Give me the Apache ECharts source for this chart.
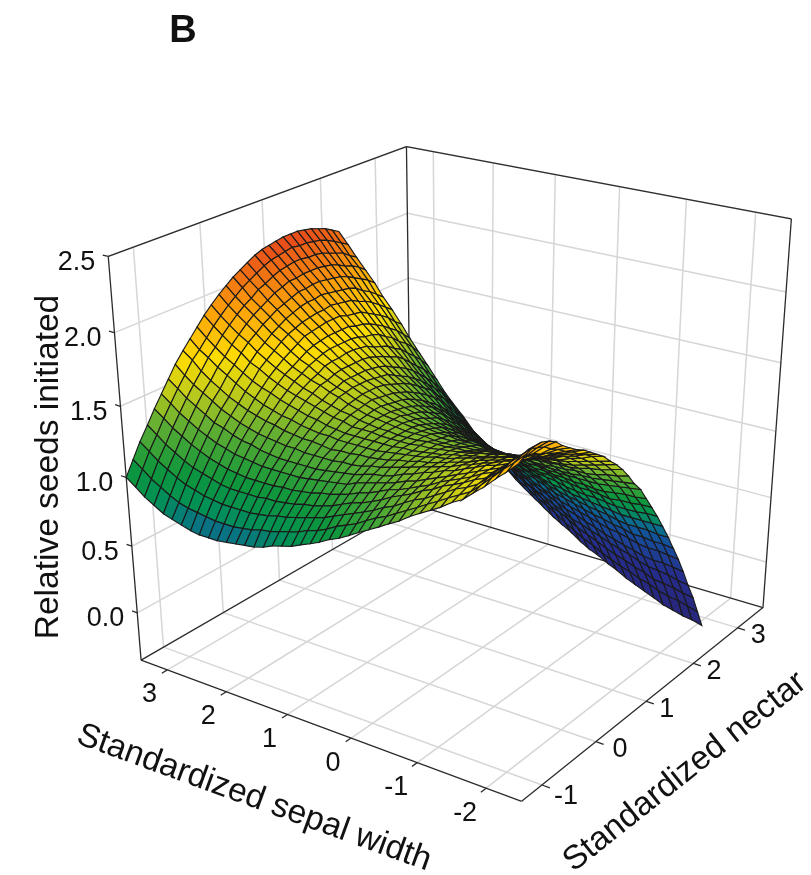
<!DOCTYPE html>
<html><head><meta charset="utf-8">
<style>html,body{margin:0;padding:0;background:#fff}#c{width:811px;height:875px}</style>
<script src="https://cdn.jsdelivr.net/npm/echarts@6/dist/echarts.min.js"></script>
</head><body><div id="c"></div>
<script>
const panelLabel = 'B';
const xTitle = 'Standardized sepal width';
const yTitle = 'Standardized nectar';
const zTitle = 'Relative seeds initiated';
const sepalTicks = [3, 2, 1, 0, -1, -2];
const nectarTicks = [-1, 0, 1, 2, 3];
const seedTicks = [0.0, 0.5, 1.0, 1.5, 2.0, 2.5];
const sepalRange = [3.46, -2.5];
const nectarRange = [-1.36, 3.6];
const seedRange = [-0.365, 2.5];
const sepalGrid = [3.46,3.31,3.17,3.02,2.87,2.73,2.58,2.43,2.29,2.14,2.00,1.85,1.70,1.56,1.41,1.26,1.12,0.97,0.82,0.68,0.53,0.39,0.24,0.09,-0.06,-0.20,-0.35,-0.50,-0.64,-0.79,-0.94,-1.08,-1.23,-1.37,-1.52,-1.67,-1.81,-1.96,-2.11,-2.25,-2.40];
const nectarGrid = [-1.36,-1.24,-1.12,-0.99,-0.87,-0.75,-0.63,-0.51,-0.38,-0.26,-0.14,-0.02,0.10,0.23,0.35,0.47,0.59,0.71,0.84,0.96,1.08,1.20,1.32,1.45,1.57,1.69,1.81,1.93,2.06,2.18,2.30];
// Relative seeds initiated x 100: one row per nectar value, one column per sepal value.
const seedRowsCenti = [
[100,95,90,86,82,80,78,76,75,75,75,76,77,78,79,81,84,86,88,91,94,97,101,104,108,112,116,120,124,128,133,137,141,145,150,154,160,166,173,179,186],
[110,105,100,96,92,89,87,86,85,84,84,84,85,86,88,89,91,93,95,98,100,103,107,110,113,117,121,124,128,132,136,140,144,148,152,156,162,169,176,182,189],
[120,115,110,106,102,99,97,95,94,93,93,93,93,94,95,97,98,100,102,104,106,109,112,115,118,121,125,128,132,136,139,143,147,151,154,158,164,170,178,184,191],
[129,124,119,115,111,108,106,104,102,101,101,101,101,102,102,103,104,106,107,109,111,114,117,119,122,125,129,132,135,139,142,146,149,152,156,159,165,171,178,185,191],
[138,133,128,124,120,117,114,112,110,109,108,108,108,108,109,109,110,111,113,114,116,118,121,123,126,129,131,134,137,140,144,147,150,153,157,160,165,171,176,183,189],
[146,141,136,132,128,125,122,120,118,117,116,115,115,115,115,115,116,117,118,119,120,123,125,127,129,131,134,136,139,142,145,148,151,154,157,160,165,170,175,181,186],
[154,149,144,140,136,132,130,127,125,124,122,121,120,120,120,120,120,121,122,123,124,126,128,129,131,134,136,139,141,144,146,149,152,155,157,160,164,169,172,177,181],
[162,156,151,147,143,139,136,133,131,129,128,127,126,126,125,125,125,125,126,126,127,129,130,132,134,136,138,140,142,144,147,149,152,154,157,159,162,166,170,174,177],
[169,164,158,153,149,145,142,139,137,135,134,132,131,130,130,129,128,129,129,130,130,131,132,134,135,137,138,140,142,144,146,149,151,153,155,158,160,163,167,170,173],
[175,169,165,160,156,152,148,145,142,140,138,137,135,134,133,133,132,132,132,132,132,133,134,135,136,137,139,140,142,144,146,148,150,152,154,156,158,161,164,167,170],
[181,175,170,165,161,157,153,150,148,145,143,141,139,138,136,135,134,134,134,134,134,134,135,135,136,137,138,140,141,143,144,146,148,150,151,153,155,158,161,163,166],
[187,181,176,171,167,162,159,155,152,149,147,145,143,141,139,138,136,136,136,135,135,135,135,136,136,137,138,139,140,142,143,145,146,148,149,151,152,155,157,160,162],
[192,186,181,176,172,167,163,159,156,153,150,148,145,143,141,140,138,137,136,136,135,135,135,136,136,136,137,137,138,139,141,142,143,144,146,147,148,151,153,156,158],
[197,191,186,181,176,171,167,163,159,156,153,151,148,146,143,141,139,138,137,136,135,135,135,134,134,134,135,135,136,137,138,139,140,141,142,143,144,146,148,150,152],
[201,195,190,185,180,175,171,166,162,159,155,152,149,147,144,142,140,138,137,136,135,134,134,133,133,133,133,133,133,134,135,135,136,137,137,138,139,141,143,145,147],
[205,199,193,188,183,178,174,169,165,161,158,154,151,148,145,143,140,138,137,135,134,133,132,132,131,131,131,130,130,130,131,131,132,132,133,133,134,136,137,139,141],
[208,202,197,191,186,181,176,172,167,163,159,155,151,148,145,142,139,137,135,134,132,131,130,129,128,127,127,126,126,126,126,126,126,127,127,128,128,129,131,132,134],
[211,205,199,194,188,183,178,173,168,164,159,155,151,148,145,141,138,136,134,132,130,129,127,126,125,124,123,123,122,122,122,121,121,121,121,122,122,123,124,125,126],
[214,208,202,196,190,185,179,174,169,164,160,155,151,147,144,140,137,134,132,129,127,125,124,122,121,120,119,118,117,116,116,115,115,115,115,115,115,116,117,118,119],
[216,210,204,198,192,186,180,175,169,164,160,155,150,146,142,138,135,132,129,127,124,122,120,118,116,115,114,112,111,110,110,109,109,108,108,107,107,108,109,109,110],
[217,211,205,198,192,186,180,175,169,164,159,154,149,145,140,136,132,129,126,123,120,118,116,113,111,110,108,107,105,104,104,103,102,101,101,100,99,100,100,101,101],
[218,212,206,199,193,187,181,175,169,163,158,152,147,142,138,133,129,126,123,119,116,114,111,109,106,104,102,101,99,98,97,95,94,93,93,92,91,91,91,92,92],
[219,213,206,199,193,186,180,173,167,161,155,150,144,139,135,130,125,122,118,115,111,108,106,103,100,98,96,94,92,90,89,87,86,85,84,83,82,82,82,82,82],
[219,212,205,199,192,185,179,172,166,160,153,147,141,136,131,126,121,117,113,109,106,103,100,97,94,92,89,87,84,82,80,79,77,76,75,73,72,72,72,71,71],
[219,212,205,198,191,184,178,171,164,158,151,145,138,132,127,122,116,112,108,104,100,97,93,90,87,84,82,79,76,74,72,70,68,67,65,64,62,62,61,61,60],
[218,211,204,197,190,183,175,168,161,154,147,141,134,128,123,117,111,107,102,98,93,90,86,83,79,76,73,70,67,65,63,61,59,57,56,54,52,51,51,50,49],
[217,210,202,195,188,181,173,165,158,151,144,136,129,123,117,111,105,100,96,91,86,82,79,75,71,68,65,61,58,56,53,51,48,46,44,42,40,39,39,38,37],
[215,208,200,192,185,177,170,162,154,146,139,131,124,118,112,105,99,94,89,84,79,75,71,66,62,59,55,52,48,46,43,41,38,36,34,31,29,28,27,25,24],
[213,205,198,190,182,174,166,158,150,142,134,126,118,112,105,98,92,87,82,76,71,67,62,58,53,49,46,42,38,35,32,29,26,24,21,19,16,15,14,12,11],
[210,202,194,187,179,170,162,153,145,137,129,120,112,105,98,91,84,79,73,68,62,57,53,48,44,40,35,31,27,24,20,17,14,12,9,7,4,2,1,-1,-3],
[207,199,191,183,175,166,158,149,140,131,123,114,105,98,91,83,76,70,65,59,53,48,43,38,33,29,25,20,16,13,9,6,2,-1,-4,-7,-10,-12,-14,-15,-17]
];
const seedAt=(i,j)=>seedRowsCenti[i][j]/100;

// Camera calibration: box corners (unit cube) -> page pixels, solved by least squares.
const calib = [
 [0,0,0,141,659],[1,0,0,522,802],[1,1,0,763,607],[0,1,0,411,505],
 [0,0,1,108,257],[0,1,1,407,146],[1,1,1,791,219]
];
function solveCamera(pts){
  const A=[],b=[];
  pts.forEach(([X,Y,Z,x,y])=>{
    A.push([X,Y,Z,1,0,0,0,0,-x*X,-x*Y,-x*Z]);b.push(x);
    A.push([0,0,0,0,X,Y,Z,1,-y*X,-y*Y,-y*Z]);b.push(y);
  });
  const n=11,M=[];
  for(let i=0;i<n;i++){M.push([]);for(let j=0;j<n;j++){let t=0;A.forEach(r=>t+=r[i]*r[j]);M[i].push(t);}
    let t=0;A.forEach((r,k)=>t+=r[i]*b[k]);M[i].push(t);}
  for(let c=0;c<n;c++){let p=c;for(let r=c+1;r<n;r++)if(Math.abs(M[r][c])>Math.abs(M[p][c]))p=r;
    [M[c],M[p]]=[M[p],M[c]];
    for(let r=0;r<n;r++){if(r===c)continue;const f=M[r][c]/M[c][c];for(let k=c;k<=n;k++)M[r][k]-=f*M[c][k];}}
  return M.map((r,i)=>r[n]/r[i]);
}
const P=solveCamera(calib);
const U=s=>(s-sepalRange[0])/(sepalRange[1]-sepalRange[0]);
const V=n=>(n-nectarRange[0])/(nectarRange[1]-nectarRange[0]);
const W=z=>(z-seedRange[0])/(seedRange[1]-seedRange[0]);
function depth(s,n,z){return P[8]*U(s)+P[9]*V(n)+P[10]*W(z)+1;}
function project(s,n,z){
  const u=U(s),v=V(n),w=W(z),d=P[8]*u+P[9]*v+P[10]*w+1;
  return [(P[0]*u+P[1]*v+P[2]*w+P[3])/d,(P[4]*u+P[5]*v+P[6]*w+P[7])/d];
}
const [sA,sB]=sepalRange,[nA,nB]=nectarRange,[zA,zB]=seedRange;

const lightLines=[];
sepalTicks.forEach(s=>{lightLines.push([s,nA,zA,s,nB,zA]);lightLines.push([s,nB,zA,s,nB,zB]);});
nectarTicks.forEach(n=>{lightLines.push([sA,n,zA,sB,n,zA]);lightLines.push([sA,n,zA,sA,n,zB]);});
seedTicks.forEach(z=>{lightLines.push([sA,nA,z,sA,nB,z]);lightLines.push([sA,nB,z,sB,nB,z]);});
const darkLines=[
 [sA,nA,zA,sB,nA,zA],[sB,nA,zA,sB,nB,zA],[sB,nB,zA,sA,nB,zA],[sA,nB,zA,sA,nA,zA],
 [sA,nA,zA,sA,nA,zB],[sA,nB,zA,sA,nB,zB],[sB,nB,zA,sB,nB,zB],
 [sA,nA,zB,sA,nB,zB],[sA,nB,zB,sB,nB,zB]
];
sepalTicks.forEach(s=>darkLines.push([s,nA,zA,s,nA-0.09,zA]));
nectarTicks.forEach(n=>darkLines.push([sB,n,zA,sB-0.11,n,zA]));
seedTicks.forEach(z=>darkLines.push([sA,nA,z,sA+0.09,nA,z]));

const STOPS=[[-0.3,[40,36,115]],[0.3,[38,45,140]],[0.65,[20,80,155]],[0.78,[10,110,140]],[0.9,[0,145,85]],[1.05,[15,150,60]],
 [1.3,[100,175,50]],[1.48,[195,205,25]],[1.65,[255,220,0]],[1.9,[250,155,10]],[2.18,[230,72,28]]];
function colorOf(z){
  if(z<=STOPS[0][0])return `rgb(${STOPS[0][1]})`;
  for(let i=1;i<STOPS.length;i++)if(z<=STOPS[i][0]){
    const [a,ca]=STOPS[i-1],[b,cb]=STOPS[i],t=(z-a)/(b-a);
    return `rgb(${ca.map((c,k)=>Math.round(c+(cb[k]-c)*t))})`;
  }
  return `rgb(${STOPS[STOPS.length-1][1]})`;
}
const cells=[];
for(let r=0;r<nectarGrid.length-1;r++)for(let c=0;c<sepalGrid.length-1;c++){
  const s=(sepalGrid[c]+sepalGrid[c+1])/2,n=(nectarGrid[r]+nectarGrid[r+1])/2;
  const z=(seedAt(r,c)+seedAt(r,c+1)+seedAt(r+1,c)+seedAt(r+1,c+1))/4;
  cells.push({r,c,z,d:depth(s,n,z)});
}
const sgn=Math.sign(depth(sA,nB,zA)-depth(sB,nA,zA));
cells.sort((a,b)=>sgn*(b.d-a.d));
const surfaceData=cells.map(o=>[o.r,o.c,o.z]);

function lineSeries(data,color,width){
  return {type:'custom',coordinateSystem:'cartesian2d',silent:true,animation:false,data,
    encode:{x:0,y:1},
    renderItem(params,api){
      const d=data[params.dataIndex];
      const a=api.coord(project(d[0],d[1],d[2])),b=api.coord(project(d[3],d[4],d[5]));
      return {type:'line',shape:{x1:a[0],y1:a[1],x2:b[0],y2:b[1]},style:{stroke:color,lineWidth:width,fill:null}};
    }};
}
const FONT='"Liberation Sans", Arial, sans-serif';
const textItems=[];
seedTicks.forEach(z=>textItems.push({pos:project(sA,nA,z),dx:-13,dy:6,text:z.toFixed(1),align:'right',size:27}));
sepalTicks.forEach(s=>textItems.push({pos:project(s,nA,zA),dx:s<0?-21:-18,dy:25,text:String(s),align:'center',size:27}));
nectarTicks.forEach(n=>textItems.push({pos:project(sB,n,zA),dx:n<0?24:(n===0?24:20.5),dy:n<0?12:8,text:String(n),align:'center',size:27}));
textItems.push({pos:[183,32],dx:0,dy:0,text:panelLabel,align:'center',size:38,bold:true});
textItems.push({pos:[254,798],dx:0,dy:0,text:xTitle,align:'center',size:33.5,rot:-20});
textItems.push({pos:[685,772],dx:0,dy:0,text:yTitle,align:'center',size:33.5,rot:38.5});
textItems.push({pos:[49,467],dx:0,dy:0,text:zTitle,align:'center',size:33.5,rot:90});

const option={
  animation:false,backgroundColor:'#fff',
  grid:{left:0,right:0,top:0,bottom:0},
  xAxis:{type:'value',min:0,max:811,show:false},
  yAxis:{type:'value',min:0,max:875,inverse:true,show:false},
  series:[
    lineSeries(lightLines,'#d6d6d6',1.5),
    lineSeries(darkLines,'#2b2b2b',1.3),
    {type:'custom',coordinateSystem:'cartesian2d',silent:true,animation:false,data:surfaceData,encode:{x:0,y:1},
     renderItem(params,api){
       const [r,c,z]=surfaceData[params.dataIndex];
       const q=[[r,c],[r,c+1],[r+1,c+1],[r+1,c]].map(([i,j])=>api.coord(project(sepalGrid[j],nectarGrid[i],seedAt(i,j))));
       return {type:'polygon',shape:{points:q},style:{fill:colorOf(z),stroke:'#1a1a1a',lineWidth:1.15}};
     }},
    {type:'custom',coordinateSystem:'cartesian2d',silent:true,animation:false,data:textItems.map((t,i)=>[i,0]),encode:{x:0,y:1},
     renderItem(params,api){
       const t=textItems[params.dataIndex],p=api.coord(t.pos);
       return {type:'text',x:p[0]+t.dx,y:p[1]+t.dy,rotation:(t.rot||0)*Math.PI/180,
         style:{text:t.text,fill:'#111',font:`${t.bold?'bold ':''}${t.size}px ${FONT}`,textAlign:t.align,textVerticalAlign:'middle'}};
     }}
  ]
};
echarts.init(document.getElementById('c'),null,{renderer:'canvas'}).setOption(option);
</script></body></html>
